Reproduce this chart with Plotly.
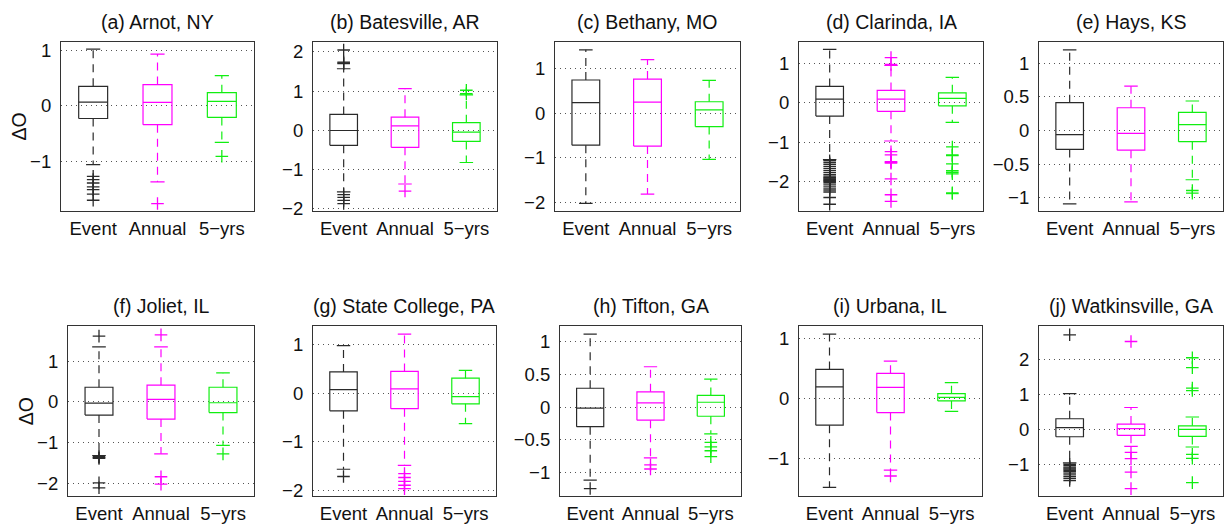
import plotly.graph_objects as go

# ---------------- data ----------------
stations = ["(a) Arnot, NY", "(b) Batesville, AR", "(c) Bethany, MO", "(d) Clarinda, IA",
            "(e) Hays, KS", "(f) Joliet, IL", "(g) State College, PA", "(h) Tifton, GA",
            "(i) Urbana, IL", "(j) Watkinsville, GA"]
groups = ["Event", "Annual", "5\u2212yrs"]

# per panel: [Event, Annual, 5-yrs]
whisk_lo = [[-1.06, -1.37, -0.66], [-1.58, -1.38, -0.83], [-2.03, -1.82, -1.04],
            [-1.44, -0.97, -0.50], [-1.09, -1.06, -0.73], [-1.31, -1.27, -1.06],
            [-1.57, -1.49, -0.63], [-1.12, -0.78, -0.41], [-1.49, -1.20, -0.22],
            [-0.94, -0.47, -0.49]]
q1 = [[-0.23, -0.34, -0.21], [-0.39, -0.44, -0.29], [-0.72, -0.74, -0.30],
      [-0.34, -0.22, -0.08], [-0.28, -0.29, -0.165], [-0.32, -0.42, -0.26],
      [-0.365, -0.32, -0.22], [-0.30, -0.20, -0.14], [-0.45, -0.24, -0.045],
      [-0.20, -0.16, -0.19]]
medians = [[0.065, 0.06, 0.08], [-0.01, 0.11, -0.05], [0.24, 0.25, 0.075],
           [0.09, 0.09, 0.11], [-0.06, -0.04, 0.09], [-0.03, 0.065, -0.02],
           [0.075, 0.09, -0.07], [-0.015, 0.065, 0.075], [0.19, 0.18, 0.015],
           [0.06, 0.03, 0.01]]
q3 = [[0.35, 0.38, 0.235], [0.40, 0.33, 0.19], [0.75, 0.77, 0.26],
      [0.41, 0.31, 0.25], [0.415, 0.34, 0.27], [0.36, 0.41, 0.36],
      [0.44, 0.45, 0.31], [0.29, 0.235, 0.18], [0.48, 0.415, 0.075],
      [0.31, 0.16, 0.11]]
whisk_hi = [[1.02, 0.93, 0.54], [1.57, 1.06, 0.90], [1.43, 1.21, 0.74],
            [1.35, 0.94, 0.64], [1.20, 0.66, 0.44], [1.35, 1.35, 0.71],
            [0.98, 1.22, 0.47], [1.12, 0.62, 0.43], [1.07, 0.62, 0.26],
            [1.02, 0.63, 0.36]]
outliers = [
    [[-1.27, -1.33, -1.39, -1.46, -1.51, -1.59, -1.70], [-1.76], [-0.91]],
    [[1.70, 1.72, 1.74, 2.05, -1.65, -1.72, -1.80, -1.88], [-1.56], [0.93, 1.02]],
    [[], [], []],
    [[-1.47, -1.52, -1.57, -1.62, -1.67, -1.72, -1.77, -1.82, -1.86, -1.89, -1.91, -1.93,
      -1.95, -1.97, -1.99, -2.02, -2.06, -2.11, -2.16, -2.21, -2.26, -2.40, -2.57],
     [0.97, 1.14, -1.24, -1.32, -1.49, -1.51, -1.53, -1.93, -2.33, -2.50],
     [-1.12, -1.32, -1.34, -1.55, -1.72, -1.76, -1.80, -2.28, -2.30]],
    [[], [], [-0.89, -0.93]],
    [[1.61, -1.34, -1.36, -1.38, -1.98, -2.10], [1.64, -1.83, -2.01], [-1.27]],
    [[-1.72], [-1.66, -1.74, -1.82, -1.90, -1.97], []],
    [[-1.25], [-0.885, -0.95], [-0.54, -0.61, -0.67, -0.76]],
    [[], [-1.30], []],
    [[2.69, -0.98, -1.02, -1.06, -1.09, -1.12, -1.15, -1.19, -1.23, -1.28, -1.33, -1.38, -1.44],
     [2.50, -0.64, -0.82, -1.20, -1.67],
     [2.04, 1.76, 1.18, 1.11, -0.70, -0.81, -1.50]],
]
y_ranges = [[-1.9, 1.15], [-2.08, 2.26], [-2.21, 1.61], [-2.75, 1.54], [-1.2, 1.32],
            [-2.31, 1.85], [-2.13, 1.38], [-1.37, 1.24], [-1.64, 1.2], [-1.89, 2.93]]
y_ticks = [[-1, 0, 1], [-2, -1, 0, 1, 2], [-2, -1, 0, 1], [-2, -1, 0, 1],
           [-1, -0.5, 0, 0.5, 1], [-2, -1, 0, 1], [-2, -1, 0, 1],
           [-1, -0.5, 0, 0.5, 1], [-1, 0, 1], [-1, 0, 1, 2]]

# ---------------- layout geometry (pixels) ----------------
W, H = 1232, 525
panel_px = [(61, 254, 40.5, 213), (313, 497, 40.5, 213), (555, 740, 40.5, 213),
            (799, 983, 40.5, 213), (1039, 1223, 40.5, 213),
            (68, 254, 330, 503), (313, 496, 330, 503), (560, 741, 330, 503),
            (799, 982, 330, 503), (1039, 1223, 330, 503)]
colors = ["#2a2a2a", "#ff00ff", "#11ee11"]
BOX_W = 0.45
CAP_W = 0.22
FONT = "Liberation Sans, Arial, Helvetica, sans-serif"


def tick_text(v):
    s = ("%g" % abs(v))
    return ("\u2212" + s) if v < 0 else s


fig = go.Figure()
annotations = []
for p in range(10):
    ax = "" if p == 0 else str(p + 1)
    xref, yref = "x" + ax, "y" + ax
    for s in range(3):
        xc = s + 1
        c = colors[s]
        lo, a, m, b, hi = whisk_lo[p][s], q1[p][s], medians[p][s], q3[p][s], whisk_hi[p][s]
        # dashed whiskers
        fig.add_trace(go.Scatter(x=[xc, xc, None, xc, xc], y=[b, hi, None, a, lo],
                                 mode="lines", line=dict(color=c, width=1.2, dash="8px,6px"),
                                 xaxis=xref, yaxis=yref, hoverinfo="skip", showlegend=False))
        # caps
        fig.add_trace(go.Scatter(x=[xc - CAP_W / 2, xc + CAP_W / 2, None, xc - CAP_W / 2, xc + CAP_W / 2],
                                 y=[hi, hi, None, lo, lo], mode="lines",
                                 line=dict(color=c, width=1.2),
                                 xaxis=xref, yaxis=yref, hoverinfo="skip", showlegend=False))
        # box
        fig.add_trace(go.Scatter(x=[xc - BOX_W / 2, xc + BOX_W / 2, xc + BOX_W / 2, xc - BOX_W / 2, xc - BOX_W / 2],
                                 y=[a, a, b, b, a], mode="lines",
                                 line=dict(color=c, width=1.2),
                                 xaxis=xref, yaxis=yref, hoverinfo="skip", showlegend=False))
        # median
        fig.add_trace(go.Scatter(x=[xc - BOX_W / 2, xc + BOX_W / 2], y=[m, m], mode="lines",
                                 line=dict(color=c, width=1.2),
                                 xaxis=xref, yaxis=yref, hoverinfo="skip", showlegend=False))
        # outliers
        if outliers[p][s]:
            fig.add_trace(go.Scatter(x=[xc] * len(outliers[p][s]), y=outliers[p][s], mode="markers",
                                     marker=dict(symbol="cross-thin", size=9,
                                                 line=dict(color=c, width=1.3)),
                                     xaxis=xref, yaxis=yref, hoverinfo="skip", showlegend=False))

    x0, x1, t, btm = panel_px[p]
    xd = [x0 / W, x1 / W]
    yd = [1 - btm / H, 1 - t / H]
    fig.update_layout(**{
        "xaxis" + ax: dict(domain=xd, range=[0.5, 3.5], tickvals=[1, 2, 3], ticktext=groups,
                           showgrid=False, zeroline=False, showline=True, mirror=True,
                           linecolor="#333", linewidth=1.2, ticks="", anchor=yref,
                           tickfont=dict(family=FONT, size=18.5, color="#111"),
                           fixedrange=True),
        "yaxis" + ax: dict(domain=yd, range=y_ranges[p], tickvals=y_ticks[p],
                           ticktext=[tick_text(v) for v in y_ticks[p]],
                           showgrid=True, gridcolor="#555", gridwidth=1, griddash="1px,4px",
                           zeroline=False, showline=True, mirror=True,
                           linecolor="#333", linewidth=1.2, ticks="", anchor=xref,
                           ticklabelstandoff=5,
                           tickfont=dict(family=FONT, size=18.5, color="#111"),
                           fixedrange=True),
    })
    annotations.append(dict(text=stations[p], x=(xd[0] + xd[1]) / 2, y=yd[1],
                            xref="paper", yref="paper", xanchor="center", yanchor="bottom",
                            yshift=7, showarrow=False,
                            font=dict(family=FONT, size=19.5, color="#111")))
    if p in (0, 5):
        annotations.append(dict(text="\u0394O", x=(xd[0]) - 42 / W,
                                y=(yd[0] + yd[1]) / 2, xref="paper", yref="paper",
                                xanchor="center", yanchor="middle", textangle=-90,
                                showarrow=False,
                                font=dict(family=FONT, size=19.5, color="#111")))

fig.update_layout(width=W, height=H, margin=dict(l=0, r=0, t=0, b=0),
                  paper_bgcolor="white", plot_bgcolor="white",
                  annotations=annotations, showlegend=False)

fig.write_html("out.html")
